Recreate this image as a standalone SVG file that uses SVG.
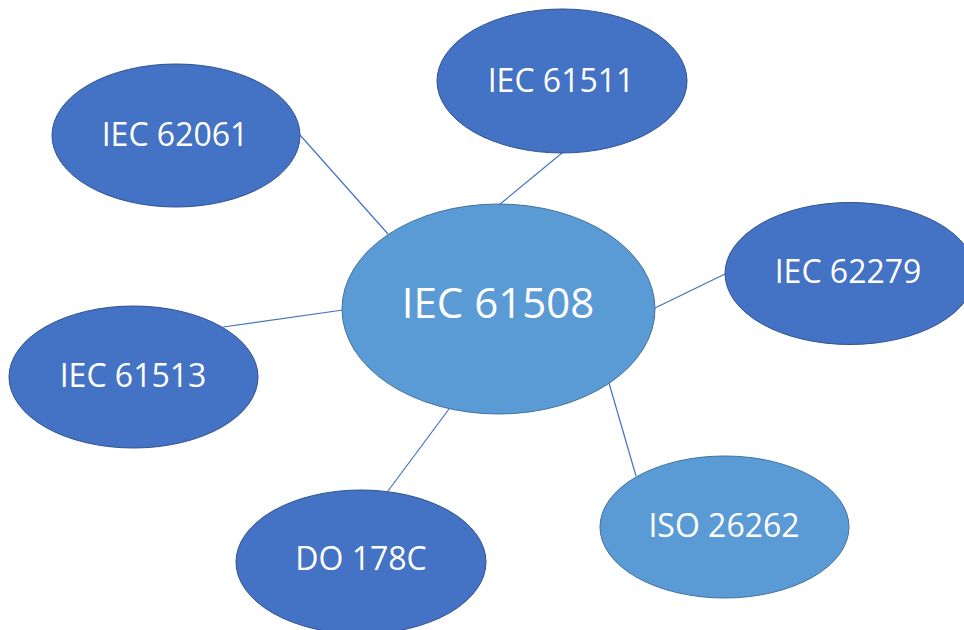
<svg xmlns="http://www.w3.org/2000/svg" width="964" height="630" viewBox="0 0 964 630">
  <style>
    .link { stroke: #4472C4; stroke-width: 1.2; fill: none; }
    .dark { fill: #4472C4; stroke: #2F528F; stroke-width: 1; }
    .light { fill: #5B9BD5; stroke: #41719C; stroke-width: 1; }
    text { font-family: "Open Sans", "Noto Sans", "Liberation Sans", sans-serif; fill: #FFFFFF; text-anchor: middle; }
    .lbl { font-size: 32px; }
    .hub { font-size: 42px; }
  </style>
  <rect width="964" height="630" fill="#FFFFFF"/>
  <g id="connectors">
    <line class="link" x1="300" y1="135" x2="388" y2="234"/>
    <line class="link" x1="562" y1="153" x2="499" y2="205"/>
    <line class="link" x1="725" y1="274" x2="655" y2="308"/>
    <line class="link" x1="223" y1="327" x2="343" y2="310"/>
    <line class="link" x1="388" y1="491" x2="449" y2="409"/>
    <line class="link" x1="636" y1="476" x2="609" y2="383"/>
  </g>
  <g id="iec61508">
    <ellipse class="light" cx="498.5" cy="309" rx="156.5" ry="105"/>
    <text class="hub" x="498" y="318">IEC 61508</text>
  </g>
  <g id="iec61511">
    <ellipse class="dark" cx="562" cy="81" rx="125" ry="72"/>
    <text class="lbl" x="561" y="92">IEC 61511</text>
  </g>
  <g id="iec62061">
    <ellipse class="dark" cx="176" cy="135.5" rx="124" ry="71.5"/>
    <text class="lbl" x="175" y="146">IEC 62061</text>
  </g>
  <g id="iec62279">
    <ellipse class="dark" cx="850" cy="273.5" rx="125" ry="71"/>
    <text class="lbl" x="848" y="283">IEC 62279</text>
  </g>
  <g id="iec61513">
    <ellipse class="dark" cx="133.5" cy="377" rx="124.5" ry="71"/>
    <text class="lbl" x="133" y="387">IEC 61513</text>
  </g>
  <g id="do178c">
    <ellipse class="dark" cx="361" cy="562" rx="125" ry="72"/>
    <text class="lbl" x="361" y="570">DO 178C</text>
  </g>
  <g id="iso26262">
    <ellipse class="light" cx="724.5" cy="527" rx="124.5" ry="71"/>
    <text class="lbl" x="724" y="537">ISO 26262</text>
  </g>
</svg>
